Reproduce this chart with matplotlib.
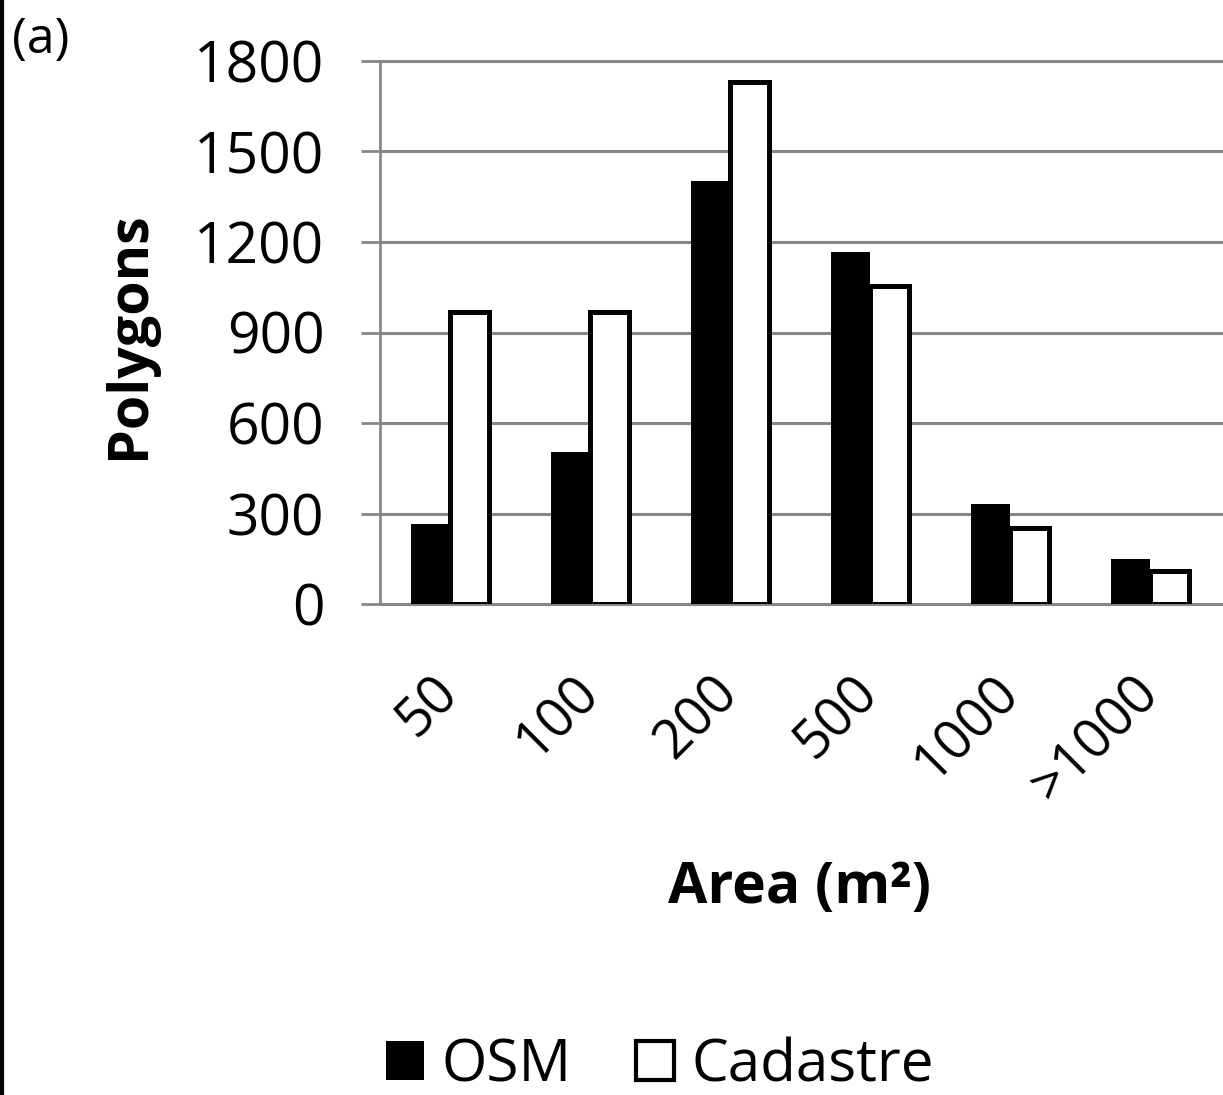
import matplotlib
matplotlib.use("Agg")
import matplotlib.pyplot as plt
from matplotlib.patches import Patch
from matplotlib.lines import Line2D
import numpy as np

plt.rcParams['font.family'] = ['Open Sans', 'DejaVu Sans']

# values
categories = ["50", "100", "200", "500", "1000", ">1000"]
osm = [265, 503, 1401, 1166, 331, 150]
cadastre = [967, 967, 1729, 1053, 251, 110]
y_ticks = [0, 300, 600, 900, 1200, 1500, 1800]

W, H = 1223, 1095
fig = plt.figure(figsize=(W / 100, H / 100), dpi=100)
ax = fig.add_axes([380 / W, (H - 604) / H, (W - 380) / W, 543 / H])

grey = "#878787"
x = np.arange(len(categories))
bw = 0.28

ax.bar(x - bw / 2, osm, bw, color="black", edgecolor="black", linewidth=0, zorder=3)
ax.bar(x + bw / 2, cadastre, bw, color="white", edgecolor="black", linewidth=3.6, zorder=4)

ax.set_xlim(-0.5, (W - 450) / 140)
ax.set_ylim(0, 1800)
ax.set_yticks(y_ticks)
ax.set_xticks(x)
ax.set_xticklabels(categories, rotation=45, ha="right", va="center",
                   rotation_mode="anchor", fontsize=39)
ax.tick_params(axis="x", length=0, pad=58)
ax.tick_params(axis="y", length=14, width=2, color=grey, pad=26, labelsize=41)

ax.yaxis.grid(True, color=grey, linewidth=2.2, zorder=0)
ax.set_axisbelow(True)
for gl in ax.get_ygridlines():
    gl.set_clip_on(False)
for s in ["top", "right", "bottom"]:
    ax.spines[s].set_visible(False)
ax.spines["left"].set_color(grey)
ax.spines["left"].set_linewidth(2)

fig.text(130 / W, 1 - 335 / H, "Polygons", rotation=90, fontsize=40,
         fontweight="bold", ha="center", va="center")
fig.text(800 / W, 1 - 888 / H, "Area (m²)", fontsize=41,
         fontweight="bold", ha="center", va="center")
fig.text(12 / W, 1 - 40 / H, "(a)", fontsize=36, ha="left", va="center")

handles = [Patch(facecolor="black", edgecolor="black", linewidth=0),
           Patch(facecolor="white", edgecolor="black", linewidth=3)]
fig.legend(handles, ["OSM", "Cadastre"], loc="center", bbox_to_anchor=(660 / W, 1 - 1066 / H),
           ncol=2, frameon=False, fontsize=42, handlelength=0.65, handleheight=0.65,
           handletextpad=0.3, columnspacing=1.1)

# border line on the left edge
fig.add_artist(Line2D([2 / W, 2 / W], [0, 1], color="black", linewidth=3,
                      transform=fig.transFigure))

fig.savefig("out.png", dpi=100)
